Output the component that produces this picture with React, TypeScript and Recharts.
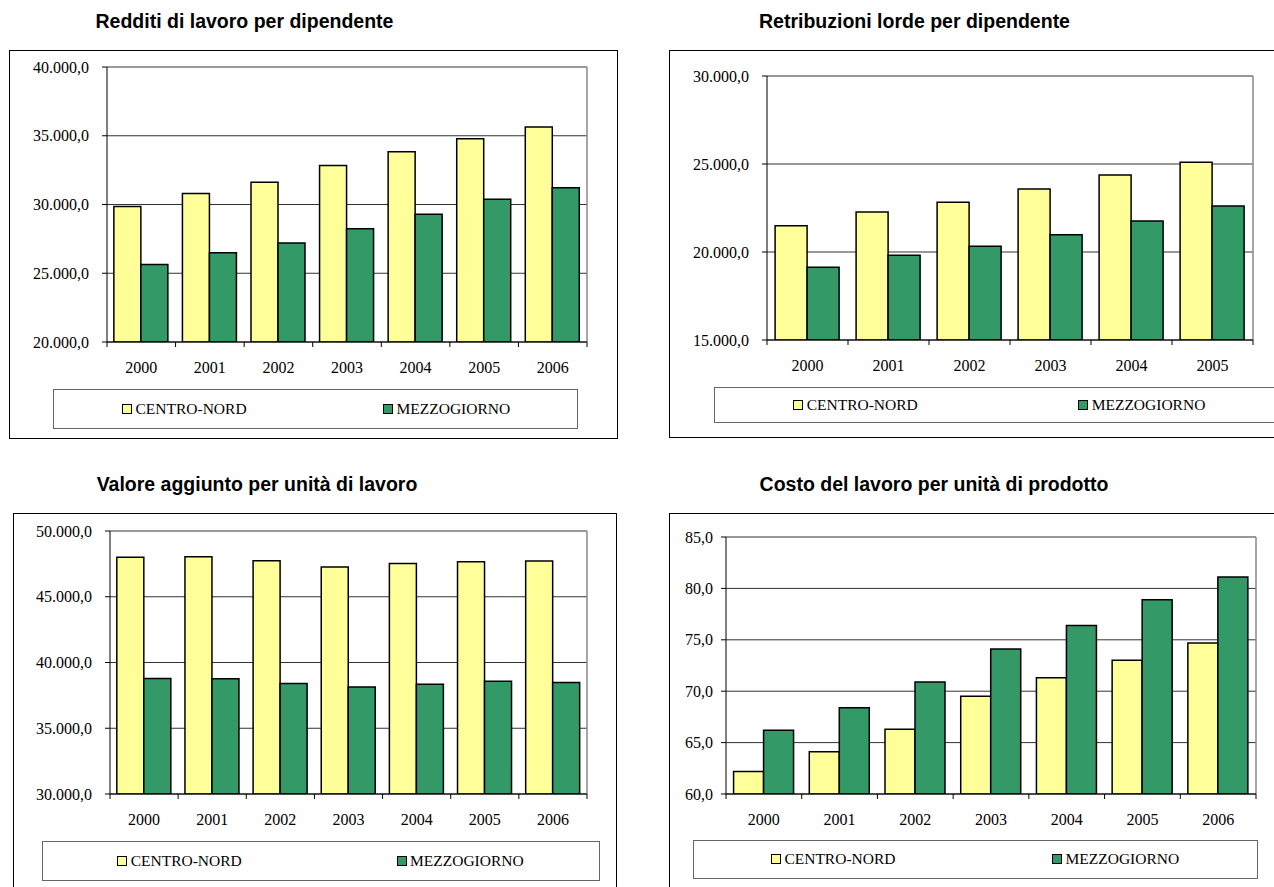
import React from 'react';
import { BarChart, Bar, XAxis, YAxis, CartesianGrid } from 'recharts';

// ---------- data ----------
const years7 = ['2000', '2001', '2002', '2003', '2004', '2005', '2006'];
const years6 = ['2000', '2001', '2002', '2003', '2004', '2005'];

const seriesNames = ['CENTRO-NORD', 'MEZZOGIORNO'];
const seriesColors = ['#FFFF99', '#339966'];

const redditiCN = [29850, 30800, 31620, 32830, 33840, 34780, 35630];
const redditiMZ = [25630, 26500, 27200, 28240, 29300, 30390, 31210];
const redditiTicks = [20000, 25000, 30000, 35000, 40000];

const retribCN = [21490, 22270, 22820, 23580, 24380, 25100];
const retribMZ = [19130, 19810, 20320, 20980, 21760, 22610];
const retribTicks = [15000, 20000, 25000, 30000];

const valoreCN = [48000, 48050, 47740, 47260, 47520, 47670, 47720];
const valoreMZ = [38780, 38760, 38400, 38130, 38350, 38580, 38480];
const valoreTicks = [30000, 35000, 40000, 45000, 50000];

const costoCN = [62.2, 64.1, 66.3, 69.5, 71.3, 73.0, 74.7];
const costoMZ = [66.2, 68.4, 70.9, 74.1, 76.4, 78.9, 81.1];
const costoTicks = [60, 65, 70, 75, 80, 85];

const titles = [
  'Redditi di lavoro per dipendente',
  'Retribuzioni lorde per dipendente',
  'Valore aggiunto per unità di lavoro',
  'Costo del lavoro per unità di prodotto',
];

// ---------- styles / layout ----------
const SERIF = "'Liberation Serif', 'Times New Roman', Times, serif";
const SANS = "'Liberation Sans', Arial, Helvetica, sans-serif";
const Y_W = 80;
const X_H = 40;
const TICK = 5;

function fmtIt(v: number): string {
  const s = Math.abs(v).toFixed(1);
  const [i, d] = s.split('.');
  const g = i.replace(/\B(?=(\d{3})+(?!\d))/g, '.');
  return (v < 0 ? '-' : '') + g + ',' + d;
}

type Rect = { l: number; t: number; r: number; b: number };
type PanelLayout = {
  box: Rect;
  plot: Rect;
  titleCx: number;
  titleBase: number;
  legend: Rect;
  legendItems: number[];
  yTickMargin: number;
};

const layouts: PanelLayout[] = [
  {
    box: { l: 9, t: 50, r: 618, b: 439 },
    plot: { l: 107, t: 67, r: 587, b: 342 },
    titleCx: 244.5, titleBase: 28,
    legend: { l: 53, t: 389, r: 578, b: 429 },
    legendItems: [122.5, 383.5],
    yTickMargin: 13,
  },
  {
    box: { l: 669, t: 50, r: 1290, b: 438 },
    plot: { l: 767, t: 76, r: 1253, b: 340 },
    titleCx: 914.5, titleBase: 28,
    legend: { l: 714, t: 387, r: 1290, b: 423 },
    legendItems: [793.7, 1078.7],
    yTickMargin: 13,
  },
  {
    box: { l: 13, t: 513, r: 617, b: 900 },
    plot: { l: 110, t: 531, r: 587, b: 794 },
    titleCx: 257, titleBase: 490.5,
    legend: { l: 41.5, t: 841, r: 600, b: 881 },
    legendItems: [117.7, 397],
    yTickMargin: 13,
  },
  {
    box: { l: 669, t: 513, r: 1290, b: 900 },
    plot: { l: 726, t: 537, r: 1256, b: 794 },
    titleCx: 934, titleBase: 490.5,
    legend: { l: 692.5, t: 840, r: 1258, b: 879 },
    legendItems: [771.4, 1052.5],
    yTickMargin: 8,
  },
];

function makeXTick(fallbackHalf: number) {
  return (props: any) => {
    const { x, y, payload, index, visibleTicksCount, width } = props;
    const n = visibleTicksCount || 1;
    const half = typeof width === 'number' && width > 0 ? width / n / 2 : fallbackHalf;
    const axisY = y - TICK;
    return (
      <g>
        <line x1={x - half} x2={x - half} y1={axisY} y2={axisY + TICK} stroke="#000" strokeWidth={1} />
        {index === n - 1 && (
          <line x1={x + half} x2={x + half} y1={axisY} y2={axisY + TICK} stroke="#000" strokeWidth={1} />
        )}
        <text
          x={x}
          y={axisY + 31}
          textAnchor="middle"
          fill="#000"
          style={{ fontFamily: SERIF, fontSize: 16 }}
        >
          {payload.value}
        </text>
      </g>
    );
  };
}

const YTick = (props: any) => {
  const { x, y, payload } = props;
  return (
    <text
      x={x}
      y={y + 5.5}
      textAnchor="end"
      fill="#000"
      style={{ fontFamily: SERIF, fontSize: 16 }}
    >
      {fmtIt(payload.value)}
    </text>
  );
};

function Panel(props: {
  title: string;
  cats: string[];
  cn: number[];
  mz: number[];
  ticks: number[];
  L: PanelLayout;
}) {
  const { title, cats, cn, mz, ticks, L } = props;
  const data = cats.map((c, i) => ({ year: c, cn: cn[i], mz: mz[i] }));
  const sw = L.box.r - L.box.l;
  const sh = L.box.b - L.box.t;
  const margin = {
    left: L.plot.l - L.box.l - Y_W,
    top: L.plot.t - L.box.t,
    right: L.box.r - L.plot.r,
    bottom: L.box.b - L.plot.b - X_H,
  };
  const fallbackHalf = (L.plot.r - L.plot.l) / cats.length / 2;
  const XTick = makeXTick(fallbackHalf);
  const lw = L.legend.r - L.legend.l;
  const lh = L.legend.b - L.legend.t;
  return (
    <>
      <div
        style={{
          position: 'absolute', left: L.box.l, top: L.box.t, width: sw, height: sh,
          border: '1.5px solid #000', boxSizing: 'border-box',
        }}
      />
      <div
        style={{
          position: 'absolute', left: L.titleCx - 300, width: 600, top: L.titleBase - 16,
          textAlign: 'center', fontFamily: SANS, fontWeight: 'bold', fontSize: 19.5,
          lineHeight: '19px', color: '#000', whiteSpace: 'nowrap',
        }}
      >
        {title}
      </div>
      <div style={{ position: 'absolute', left: L.box.l, top: L.box.t }}>
        <BarChart width={sw} height={sh} data={data} margin={margin} barCategoryGap="10%" barGap={0}>
          <CartesianGrid horizontal vertical={false} stroke="#333" strokeWidth={1} />
          <CartesianGrid
            horizontal={false}
            vertical
            stroke="#888"
            strokeWidth={1.5}
            verticalCoordinatesGenerator={(p: any) => [p.offset.left + p.offset.width]}
          />
          <XAxis
            dataKey="year"
            type="category"
            height={X_H}
            tickSize={TICK}
            tickMargin={0}
            tickLine={false}
            axisLine={{ stroke: '#000', strokeWidth: 1 }}
            tick={XTick}
            interval={0}
          />
          <YAxis
            type="number"
            domain={[ticks[0], ticks[ticks.length - 1]]}
            ticks={ticks}
            interval={0}
            width={Y_W}
            tickSize={TICK}
            tickMargin={L.yTickMargin}
            tick={YTick}
            tickLine={{ stroke: '#000' }}
            axisLine={{ stroke: '#000', strokeWidth: 1 }}
            allowDataOverflow
          />
          <Bar dataKey="cn" name={seriesNames[0]} fill={seriesColors[0]} stroke="#000" strokeWidth={1.5} isAnimationActive={false} />
          <Bar dataKey="mz" name={seriesNames[1]} fill={seriesColors[1]} stroke="#000" strokeWidth={1.5} isAnimationActive={false} />
        </BarChart>
      </div>
      <div
        style={{
          position: 'absolute', left: L.legend.l, top: L.legend.t, width: lw, height: lh,
          border: '1.5px solid #666', boxSizing: 'border-box', background: '#fff',
        }}
      >
        {seriesNames.map((name, i) => (
          <div
            key={name}
            style={{
              position: 'absolute', left: L.legendItems[i] - L.legend.l - 1.5, top: 0, height: lh - 3,
              display: 'flex', alignItems: 'center', whiteSpace: 'nowrap',
            }}
          >
            <span
              style={{
                display: 'inline-block', width: 10, height: 10, background: seriesColors[i],
                border: '1.5px solid #000', boxSizing: 'border-box', marginRight: 3.5,
              }}
            />
            <span style={{ fontFamily: SERIF, fontSize: 15.5, color: '#000', lineHeight: '16px' }}>{name}</span>
          </div>
        ))}
      </div>
    </>
  );
}

export default function App() {
  return (
    <div
      style={{
        position: 'absolute', left: 0, top: 0, width: 1274, height: 887,
        overflow: 'hidden', background: '#fff', fontFamily: SERIF,
      }}
    >
      <Panel title={titles[0]} cats={years7} cn={redditiCN} mz={redditiMZ} ticks={redditiTicks} L={layouts[0]} />
      <Panel title={titles[1]} cats={years6} cn={retribCN} mz={retribMZ} ticks={retribTicks} L={layouts[1]} />
      <Panel title={titles[2]} cats={years7} cn={valoreCN} mz={valoreMZ} ticks={valoreTicks} L={layouts[2]} />
      <Panel title={titles[3]} cats={years7} cn={costoCN} mz={costoMZ} ticks={costoTicks} L={layouts[3]} />
    </div>
  );
}
